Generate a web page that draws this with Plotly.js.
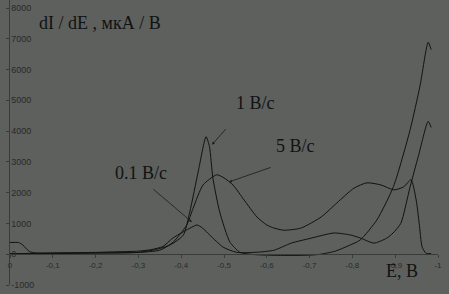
<!DOCTYPE html>
<html>
<head>
<meta charset="utf-8">
<script src="https://cdn.plot.ly/plotly-3.0.1.min.js"></script>
<style>html,body{margin:0;padding:0;background:#5d605d;}#chart{width:449px;height:294px;}</style>
</head>
<body>
<div id="chart"></div>
<script>
// 1 V/s
const E_1 = [0, -0.05, -0.1, -0.2, -0.3, -0.34, -0.374, -0.405, -0.42, -0.44, -0.458, -0.466, -0.474, -0.49, -0.514, -0.537, -0.56, -0.6, -0.65, -0.7, -0.726, -0.76, -0.79, -0.818, -0.857, -0.896, -0.935, -0.958, -0.977, -0.984];
const I_1 = [20, 20, 30, 40, 60, 150, 300, 620, 1370, 2700, 3820, 3500, 2480, 1370, 390, 65, 0, -30, -40, -30, 0, 100, 270, 460, 1110, 2200, 4050, 5470, 6890, 6650];
// 5 V/s
const E_5 = [0, -0.02, -0.03, -0.045, -0.06, -0.1, -0.2, -0.3, -0.35, -0.381, -0.413, -0.428, -0.451, -0.483, -0.5, -0.521, -0.547, -0.577, -0.6, -0.617, -0.64, -0.68, -0.727, -0.764, -0.804, -0.834, -0.867, -0.897, -0.92, -0.937, -0.949, -0.956, -0.963, -0.972, -0.984];
const I_5 = [380, 380, 300, 90, 40, 30, 40, 60, 130, 390, 950, 1500, 2250, 2580, 2480, 2250, 1760, 1210, 950, 850, 780, 850, 1210, 1670, 2150, 2320, 2250, 2090, 2190, 2420, 1760, 1010, 230, 30, 20];
// 0.1 V/s
const E_01 = [0, -0.05, -0.1, -0.2, -0.25, -0.3, -0.33, -0.357, -0.38, -0.404, -0.425, -0.437, -0.45, -0.467, -0.498, -0.53, -0.577, -0.617, -0.657, -0.703, -0.757, -0.797, -0.82, -0.85, -0.88, -0.895, -0.913, -0.935, -0.954, -0.977, -0.984];
const I_01 = [0, 30, 40, 60, 80, 100, 150, 250, 520, 720, 880, 950, 850, 620, 230, 60, 65, 130, 360, 520, 690, 620, 520, 360, 520, 690, 1000, 2200, 3180, 4320, 4120];

const xTickVals = [0, -0.1, -0.2, -0.3, -0.4, -0.5, -0.6, -0.7, -0.8, -0.9, -1];
const xTickText = ['0', '-0,1', '-0,2', '-0,3', '-0,4', '-0,5', '-0,6', '-0,7', '-0,8', '-0,9', '-1'];
const yTickVals = [-1000, 0, 1000, 2000, 3000, 4000, 5000, 6000, 7000, 8000];
const yTickText = ['-1000', '0', '1000', '2000', '3000', '4000', '5000', '6000', '7000', '8000'];

const lineStyle = {color: '#121212', width: 1, shape: 'spline', smoothing: 0.6};
const data = [
  {x: E_1, y: I_1, name: '1 В/с', mode: 'lines', line: lineStyle},
  {x: E_5, y: I_5, name: '5 В/с', mode: 'lines', line: lineStyle},
  {x: E_01, y: I_01, name: '0.1 В/с', mode: 'lines', line: lineStyle}
];

const serif = {family: 'Liberation Serif', size: 18, color: '#121212'};
const tickFont = {family: 'Liberation Sans', size: 9, color: '#2a2a2a'};
const arrowBase = {text: '', showarrow: true, arrowhead: 2, arrowsize: 0.7, arrowwidth: 0.8, arrowcolor: '#1a1a1a', xref: 'x', yref: 'y', axref: 'pixel', ayref: 'pixel'};

const yMin = -1000, yMax = 8260;

const layout = {
  width: 449, height: 294,
  margin: {l: 10, r: 11, t: 0, b: 9},
  paper_bgcolor: '#5d605d',
  plot_bgcolor: '#5d605d',
  showlegend: false,
  xaxis: {
    range: [0, -1],
    anchor: 'free', position: -yMin / (yMax - yMin),
    showgrid: false, zeroline: false,
    showline: true, linecolor: '#3a3a3a', linewidth: 1,
    ticks: 'outside', ticklen: 3, tickcolor: '#3a3a3a',
    tickvals: xTickVals, ticktext: xTickText,
    tickfont: {family: 'Liberation Sans', size: 8, color: '#2a2a2a'}
  },
  yaxis: {
    range: [yMin, yMax],
    showgrid: false, zeroline: false,
    showline: true, linecolor: '#3a3a3a', linewidth: 1,
    ticks: 'outside', ticklen: 3, tickcolor: '#3a3a3a',
    ticklabelposition: 'inside', ticklabeloverflow: 'allow',
    tickvals: yTickVals, ticktext: yTickText,
    tickfont: tickFont
  },
  annotations: [
    {text: 'dI / dE , мкА / В', xref: 'paper', yref: 'paper', x: 0.063, y: 0.96, xanchor: 'left', yanchor: 'top', showarrow: false, font: serif},
    {text: 'E, В', xref: 'paper', yref: 'paper', x: 0.873, y: 0.05, xanchor: 'left', yanchor: 'middle', showarrow: false, font: serif},
    {text: '1 В/с', xref: 'paper', yref: 'paper', x: 0.523, y: 0.637, xanchor: 'left', yanchor: 'middle', showarrow: false, font: serif},
    {text: '5 В/с', xref: 'paper', yref: 'paper', x: 0.617, y: 0.486, xanchor: 'left', yanchor: 'middle', showarrow: false, font: serif},
    {text: '0.1 В/с', xref: 'paper', yref: 'paper', x: 0.24, y: 0.394, xanchor: 'left', yanchor: 'middle', showarrow: false, font: serif},
    Object.assign({}, arrowBase, {x: -0.472, y: 3560, ax: 15, ay: -17}),
    Object.assign({}, arrowBase, {x: -0.512, y: 2350, ax: 43, ay: -15}),
    Object.assign({}, arrowBase, {x: -0.425, y: 1046, ax: -40, ay: -34})
  ]
};

Plotly.newPlot('chart', data, layout, {displayModeBar: false, staticPlot: true});
</script>
</body>
</html>
